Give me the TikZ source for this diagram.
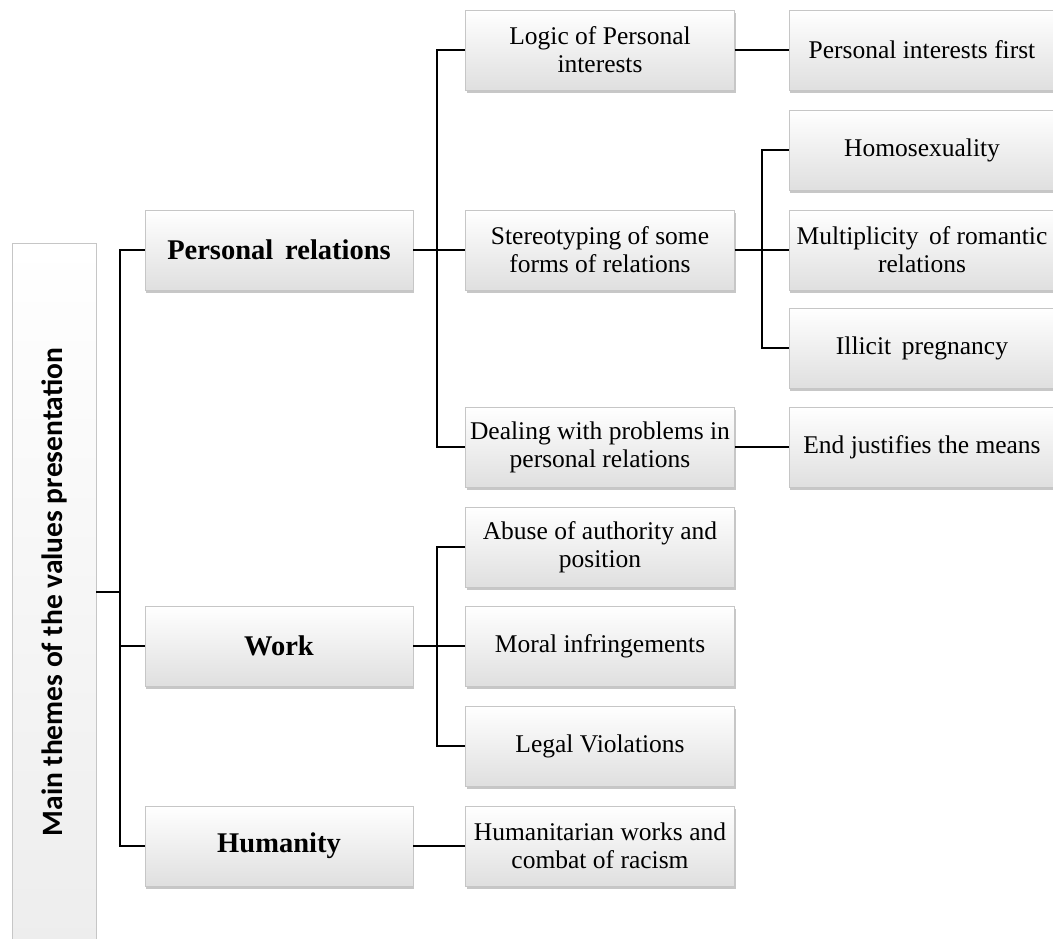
\documentclass[tikz,border=0pt]{standalone}
\usepackage{fontspec}
\setmainfont{Liberation Serif}
\newfontfamily\themefont{Carlito}
\usetikzlibrary{shadows}

\begin{document}
\begin{tikzpicture}[
    x=1pt, y=-1pt,
    box/.style={rectangle, draw=gray!45, line width=0.6pt, top color=white, bottom color=gray!25,
        drop shadow={shadow xshift=1pt, shadow yshift=-3pt, opacity=0.55, fill=gray!80},
        align=center, inner sep=1pt, font=\fontsize{25.5}{28}\selectfont},
    topbox/.style={box, minimum width=268, minimum height=80, font=\fontsize{28.5}{32}\selectfont\bfseries},
    midbox/.style={box, minimum width=269, minimum height=80},
    leafbox/.style={box, minimum width=266, minimum height=80},
    line/.style={draw, line width=1.2pt}
]
\useasboundingbox (0,0) rectangle (1053,938);

% root
\node [box, minimum width=84, minimum height=698, top color=white, bottom color=gray!14] (root) at (54,592)
    {\rotatebox{90}{\themefont\fontsize{29.5}{32}\selectfont\bfseries Main themes of the values presentation}};

% first level
\node [topbox] (personal) at (279,250) {Personal\, relations};
\node [topbox] (work) at (279,646) {Work};
\node [topbox] (humanity) at (279,846) {Humanity};

% second level
\node [midbox] (logic) at (600,50) {Logic of Personal\\interests};
\node [midbox] (stereo) at (600,250) {Stereotyping of some\\forms of relations};
\node [midbox] (dealing) at (600,447) {Dealing with problems in\\personal relations};
\node [midbox] (abuse) at (600,547) {Abuse of authority and\\position};
\node [midbox] (moral) at (600,646) {Moral infringements};
\node [midbox] (legal) at (600,746) {Legal Violations};
\node [midbox] (humanwork) at (600,846) {Humanitarian works and\\combat of racism};

% third level
\node [leafbox] (first) at (922,50) {Personal interests first};
\node [leafbox] (homo) at (922,150) {Homosexuality};
\node [leafbox] (multi) at (922,250) {Multiplicity\, of romantic\\relations};
\node [leafbox] (illicit) at (922,348) {Illicit\, pregnancy};
\node [leafbox] (means) at (922,447) {End justifies the means};

% forks
\coordinate (rootfork) at (120,592);
\coordinate (persfork) at (437,250);
\coordinate (workfork) at (437,646);
\coordinate (stereofork) at (762,250);

\path [line] (root.east |- rootfork) -- (rootfork);
\path [line] (personal.west) -| (rootfork) |- (humanity.west);
\path [line] (rootfork) |- (work.west);

\path [line] (personal.east) -- (persfork);
\path [line] (logic.west) -| (persfork) |- (dealing.west);
\path [line] (persfork) -- (stereo.west);

\path [line] (work.east) -- (workfork);
\path [line] (abuse.west) -| (workfork) |- (legal.west);
\path [line] (workfork) -- (moral.west);

\path [line] (stereo.east) -- (stereofork);
\path [line] (homo.west) -| (stereofork) |- (illicit.west);
\path [line] (stereofork) -- (multi.west);

\path [line] (humanity.east) -- (humanwork.west);
\path [line] (logic.east) -- (first.west);
\path [line] (dealing.east) -- (means.west);

\end{tikzpicture}
\end{document}
